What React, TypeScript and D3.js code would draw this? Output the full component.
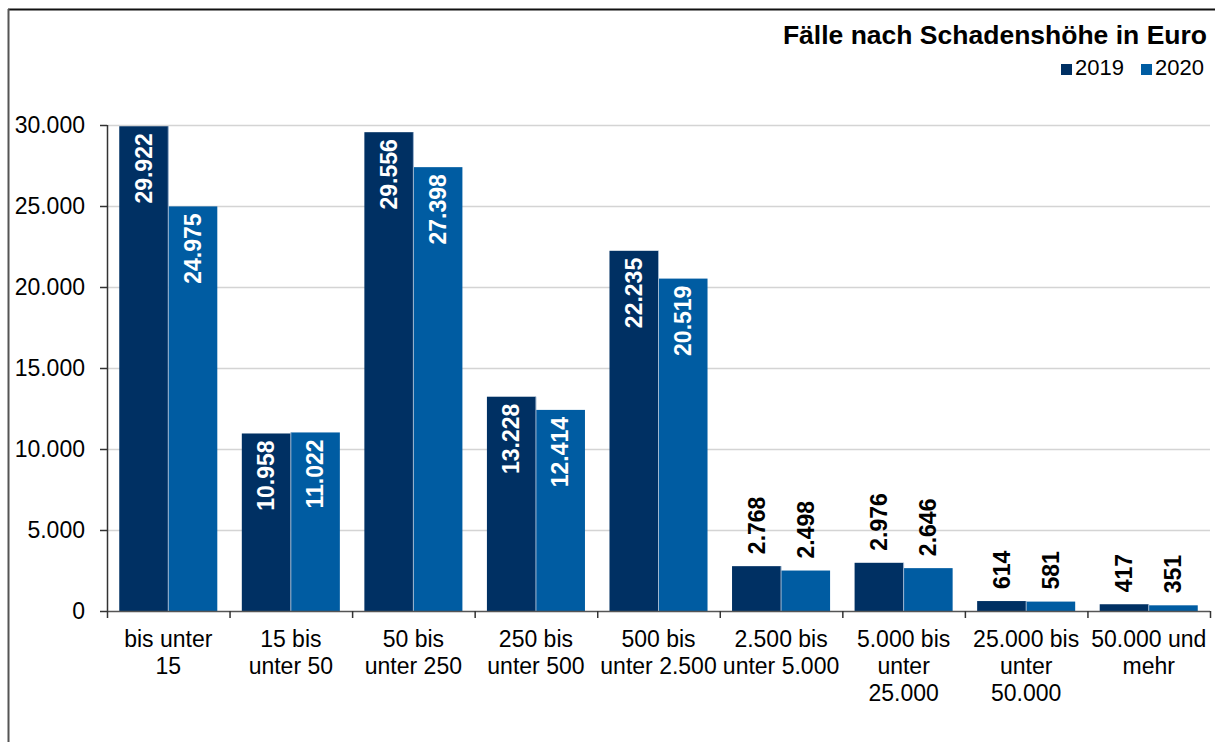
import React, { useEffect, useRef } from 'react';
import * as d3 from 'd3';

const categories = [
  ['bis unter', '15'],
  ['15 bis', 'unter 50'],
  ['50 bis', 'unter 250'],
  ['250 bis', 'unter 500'],
  ['500 bis', 'unter 2.500'],
  ['2.500 bis', 'unter 5.000'],
  ['5.000 bis', 'unter', '25.000'],
  ['25.000 bis', 'unter', '50.000'],
  ['50.000 und', 'mehr'],
];
const values2019 = [29922, 10958, 29556, 13228, 22235, 2768, 2976, 614, 417];
const values2020 = [24975, 11022, 27398, 12414, 20519, 2498, 2646, 581, 351];
const series = ['2019', '2020'];
const colors = ['#003063', '#005ca2'];
const yTicks = [0, 5000, 10000, 15000, 20000, 25000, 30000];

const fmt = (v: number) => d3.format(',')(v).replace(/,/g, '.');

export default function App() {
  const svgRef = useRef<SVGSVGElement>(null);

  useEffect(() => {
    const svg = d3.select(svgRef.current);
    svg.selectAll('*').remove();
    svg.style('font-family', '"Liberation Sans", Arial, sans-serif');

    // frame
    svg.append('line').attr('x1', 8).attr('x2', 1215).attr('y1', 9.5).attr('y2', 9.5)
      .attr('stroke', '#111').attr('stroke-width', 2);
    svg.append('line').attr('x1', 8.5).attr('x2', 8.5).attr('y1', 9).attr('y2', 742)
      .attr('stroke', '#555').attr('stroke-width', 2);

    const left = 107, right = 1210, top = 125, bottom = 611;
    const x = d3.scaleBand<number>().domain(d3.range(categories.length)).range([left, right]).padding(0);
    const xs = d3.scaleBand<string>().domain(series).range([0, x.bandwidth()]).paddingInner(0).paddingOuter(0.25);
    const y = d3.scaleLinear().domain([0, 30000]).range([bottom, top]);

    // gridlines
    svg.append('g').selectAll('line').data(yTicks.slice(1)).join('line')
      .attr('x1', left).attr('x2', right)
      .attr('y1', d => y(d) + 0.5).attr('y2', d => y(d) + 0.5)
      .attr('stroke', '#d4d4d4').attr('stroke-width', 1.5);

    // bars
    const data = [values2019, values2020];
    series.forEach((s, si) => {
      svg.append('g').selectAll('rect').data(data[si]).join('rect')
        .attr('x', (d, i) => x(i)! + xs(s)!)
        .attr('width', xs.bandwidth())
        .attr('y', d => y(d))
        .attr('height', d => y(0) - y(d))
        .attr('fill', colors[si]);
    });
    // thin light separator between paired bars
    svg.append('g').selectAll('line').data(d3.range(categories.length)).join('line')
      .attr('x1', i => x(i)! + xs('2020')!).attr('x2', i => x(i)! + xs('2020')!)
      .attr('y1', i => y(Math.max(values2019[i], values2020[i]))).attr('y2', bottom)
      .attr('stroke', '#9fb7d0').attr('stroke-width', 1);

    // value labels
    series.forEach((s, si) => {
      svg.append('g').selectAll('text').data(data[si]).join('text')
        .attr('transform', (d, i) => {
          const cx = x(i)! + xs(s)! + xs.bandwidth() / 2;
          const inside = d > 5000;
          const ty = inside ? y(d) + 7 : y(d) - 12;
          return `translate(${cx},${ty}) rotate(-90)`;
        })
        .attr('text-anchor', d => (d > 5000 ? 'end' : 'start'))
        .attr('dominant-baseline', 'central')
        .attr('font-size', 23)
        .attr('font-weight', 'bold')
        .attr('fill', d => (d > 5000 ? '#fff' : '#000'))
        .text(d => fmt(d));
    });

    // y axis
    svg.append('line').attr('x1', left + 0.5).attr('x2', left + 0.5).attr('y1', top).attr('y2', bottom)
      .attr('stroke', '#333').attr('stroke-width', 1.5);
    const yt = svg.append('g');
    yt.selectAll('line').data(yTicks).join('line')
      .attr('x1', 100).attr('x2', left).attr('y1', d => y(d) + 0.5).attr('y2', d => y(d) + 0.5)
      .attr('stroke', '#333').attr('stroke-width', 1.5);
    yt.selectAll('text').data(yTicks).join('text')
      .attr('x', 85).attr('y', d => y(d)).attr('dy', '0.35em')
      .attr('text-anchor', 'end').attr('font-size', 23).attr('fill', '#000')
      .text(d => fmt(d));

    // x axis
    svg.append('line').attr('x1', left).attr('x2', right).attr('y1', bottom + 0.5).attr('y2', bottom + 0.5)
      .attr('stroke', '#555').attr('stroke-width', 1.5);
    svg.append('g').selectAll('line').data(d3.range(categories.length + 1)).join('line')
      .attr('x1', i => left + i * x.step() + 0.5).attr('x2', i => left + i * x.step() + 0.5)
      .attr('y1', bottom).attr('y2', bottom + 7)
      .attr('stroke', '#333').attr('stroke-width', 1.5);
    const xl = svg.append('g').selectAll('text').data(categories).join('text')
      .attr('text-anchor', 'middle').attr('font-size', 23).attr('fill', '#000');
    xl.each(function (lines, i) {
      const t = d3.select(this);
      lines.forEach((ln, li) => {
        t.append('tspan').attr('x', x(i)! + x.bandwidth() / 2).attr('y', 647 + li * 27).text(ln);
      });
    });

    // title
    svg.append('text').attr('x', 1207).attr('y', 44).attr('text-anchor', 'end')
      .attr('font-size', 26.5).attr('font-weight', 'bold').attr('fill', '#000')
      .text('Fälle nach Schadenshöhe in Euro');

    // legend
    const leg = [{ s: '2019', x: 1061 }, { s: '2020', x: 1141 }];
    leg.forEach((l, i) => {
      svg.append('rect').attr('x', l.x).attr('y', 64).attr('width', 11).attr('height', 11).attr('fill', colors[i]);
      svg.append('text').attr('x', l.x + 14).attr('y', 75).attr('font-size', 22).attr('fill', '#000').text(l.s);
    });
  }, []);

  return (
    <svg ref={svgRef} width={1215} height={742} style={{ position: 'absolute', left: 0, top: 0, background: '#fff' }} />
  );
}
